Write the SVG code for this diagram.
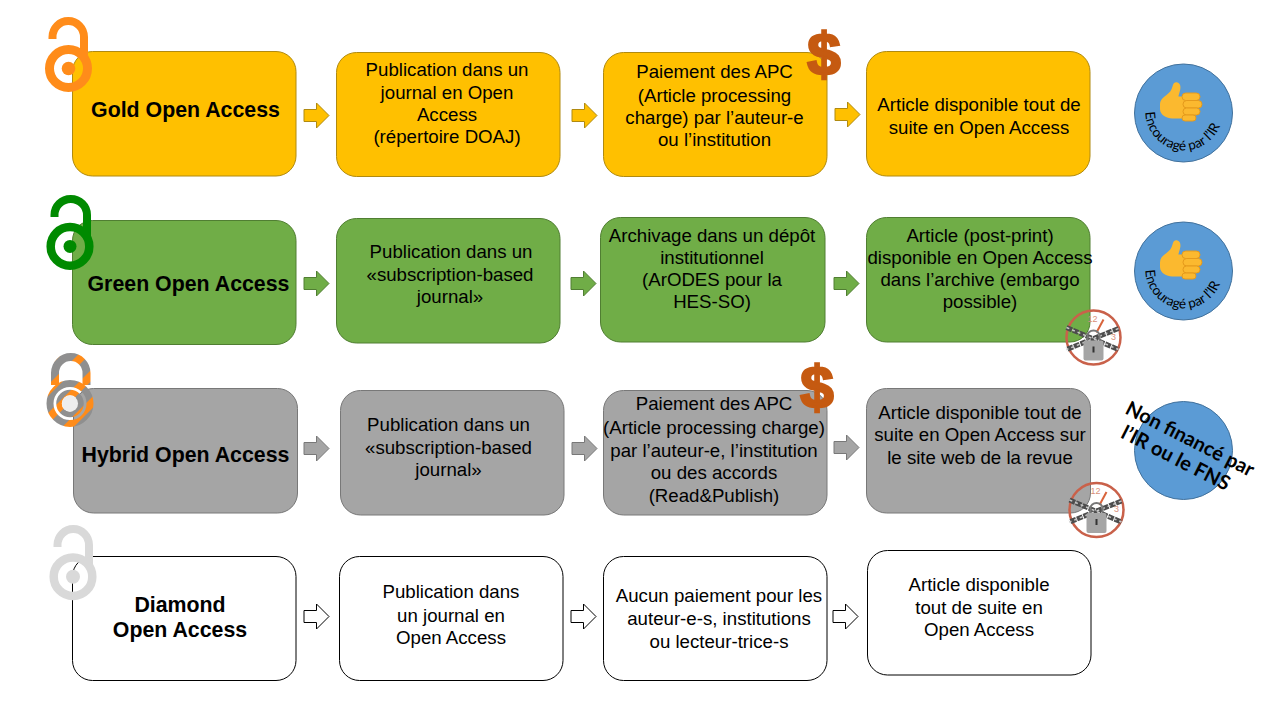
<svg xmlns="http://www.w3.org/2000/svg" width="1280" height="720" viewBox="0 0 1280 720">
<style>
.t{font-family:"Liberation Sans",Arial,sans-serif;font-size:18.67px;fill:#000;text-anchor:middle}
.h{font-weight:bold;font-size:21.33px}
.box{stroke-width:1}
.au .box,.au.arr{fill:#ffc000;stroke:#b08a10}
.gr .box,.gr.arr{fill:#70ad47;stroke:#507e32}
.hy .box,.hy.arr{fill:#a5a5a5;stroke:#787878}
.di .box,.di.arr{fill:#fff;stroke:#000}
.dollar{font-family:"Liberation Sans",Arial,sans-serif;font-weight:bold;font-size:60px;fill:#c55a11;stroke:#c55a11;stroke-width:2.5;text-anchor:middle}
.disc{fill:#5b9bd5;stroke:#41719c}
.enc{font-family:Lato,"Liberation Sans",sans-serif;font-size:13.5px;fill:#000}
.non{font-family:Lato,"Liberation Sans",sans-serif;font-weight:bold;font-size:20px;fill:#000;text-anchor:middle}
.thumb{fill:#fbb92f}
.fing{fill:#fbb92f;stroke:#e59a1c;stroke-width:1}
.clk{fill:none;stroke:#c9614a;stroke-width:2.5}
.chain{fill:none;stroke:#4d4d4d;stroke-width:5;stroke-dasharray:6 1}
.chain2{fill:none;stroke:#c8c8c8;stroke-width:1.5;stroke-dasharray:3 3}
.clktxt{font-family:"Liberation Sans",Arial,sans-serif;font-size:9px;fill:#d9907a;text-anchor:middle}
</style>
<defs>
<path id="a" d="M0 6.500H12.500V0L25 12.500 12.500 25V18.500H0Z"/>
<pattern id="stripes" width="20" height="20" patternUnits="userSpaceOnUse" patternTransform="rotate(45)">
<rect width="20" height="20" fill="#8f8f8f"/><rect x="6" width="8" height="20" fill="#ff8c1a"/>
</pattern>
<path id="thumbshape" d="M-42 1C-42-8-36-13-29-18C-22-23-19-28-17-35C-16-42-11-45-7-43C-1-41 0-34-2-27C-3-22-5-18-5-15L12-15L12 29L-18 29C-28 29-42 22-42 10Z"/>
<g id="up">
<use href="#thumbshape" class="thumb" transform="scale(.5)"/>
<rect class="fing" x="1" y="-11" width="18" height="7.500" rx="3.700"/>
<rect class="fing" x="2" y="-3.500" width="19" height="7.500" rx="3.700"/>
<rect class="fing" x="2" y="4" width="17" height="7" rx="3.500"/>
<rect class="fing" x="1" y="11" width="14" height="6" rx="3"/>
</g>
<g id="clock">
<circle class="clk" r="27"/>
<path d="M3-5L10-18" stroke="#d8643c" stroke-width="2" fill="none"/>
<text class="clktxt" x="-1" y="-16">12</text>
<text class="clktxt" x="20" y="2">3</text>
<path class="chain" d="M-27-10L25 12"/><path class="chain" d="M25-9L-27 12"/>
<path class="chain2" d="M-27-10L25 12"/><path class="chain2" d="M25-9L-27 12"/>
<path d="M-6 3V-2A6 5 0 0 1 6-2V3" fill="none" stroke="#777" stroke-width="2"/>
<rect x="-10" y="3" width="20" height="20" rx="2" fill="#a5a5a5"/>
<rect x="-1" y="9" width="2" height="6" fill="#333"/>
</g>
</defs>
<rect width="1280" height="720" fill="#fff"/>

<g id="connectors">
<use href="#a" class="au arr" x="304" y="103"/><use href="#a" class="au arr" x="572" y="103"/><use href="#a" class="au arr" x="835" y="102"/>
<use href="#a" class="gr arr" x="304" y="271"/><use href="#a" class="gr arr" x="571" y="271"/><use href="#a" class="gr arr" x="834" y="271"/>
<use href="#a" class="hy arr" x="304" y="436"/><use href="#a" class="hy arr" x="572" y="436"/><use href="#a" class="hy arr" x="834" y="435"/>
<use href="#a" class="di arr" x="304" y="604"/><use href="#a" class="di arr" x="571" y="604"/><use href="#a" class="di arr" x="833" y="604"/>
</g>

<g id="gold-1" class="au"><rect class="box" x="72.500" y="51.500" width="223.500" height="124.500" rx="20"/><text class="t h" x="185.500" y="117">Gold Open Access</text></g>
<g id="gold-2" class="au"><rect class="box" x="336.500" y="52.500" width="223.500" height="124" rx="20"/>
<text class="t" x="447" y="76">Publication dans un</text><text class="t" x="447" y="98.500">journal en Open</text><text class="t" x="447" y="120.500">Access</text><text class="t" x="447" y="143">(répertoire DOAJ)</text></g>
<g id="gold-3" class="au"><rect class="box" x="603.500" y="52.500" width="223.500" height="124" rx="20"/>
<text class="t" x="714.500" y="78">Paiement des APC</text><text class="t" x="714.500" y="102">(Article processing</text><text class="t" x="714.500" y="124">charge) par l’auteur-e</text><text class="t" x="714.500" y="146">ou l’institution</text></g>
<g id="gold-4" class="au"><rect class="box" x="866.500" y="51.500" width="223.500" height="124.500" rx="20"/>
<text class="t" x="979" y="111">Article disponible tout de</text><text class="t" x="979" y="133.500">suite en Open Access</text></g>

<g id="green-1" class="gr"><rect class="box" x="72.500" y="220.500" width="223.500" height="124" rx="20"/><text class="t h" x="188.500" y="291">Green Open Access</text></g>
<g id="green-2" class="gr"><rect class="box" x="336.500" y="218.500" width="223.500" height="124.500" rx="20"/>
<text class="t" x="451" y="258">Publication dans un</text><text class="t" x="450" y="281">«subscription-based</text><text class="t" x="450" y="303">journal»</text></g>
<g id="green-3" class="gr"><rect class="box" x="600.500" y="217.500" width="224.500" height="124.500" rx="20"/>
<text class="t" x="712" y="241.500">Archivage dans un dépôt</text><text class="t" x="712" y="264">institutionnel</text><text class="t" x="712" y="286">(ArODES pour la</text><text class="t" x="712" y="308">HES-SO)</text></g>
<g id="green-4" class="gr"><rect class="box" x="866.500" y="217.500" width="223.500" height="124.500" rx="20"/>
<text class="t" x="980" y="241.500">Article (post-print)</text><text class="t" x="980" y="264">disponible en Open Access</text><text class="t" x="980" y="286">dans l’archive (embargo</text><text class="t" x="980" y="308">possible)</text></g>

<g id="hybrid-1" class="hy"><rect class="box" x="73.500" y="388.500" width="224" height="124.500" rx="20"/><text class="t h" x="185.500" y="462">Hybrid Open Access</text></g>
<g id="hybrid-2" class="hy"><rect class="box" x="340.500" y="390.500" width="223.500" height="124.500" rx="20"/>
<text class="t" x="448.500" y="431">Publication dans un</text><text class="t" x="448.500" y="454">«subscription-based</text><text class="t" x="448.500" y="476">journal»</text></g>
<g id="hybrid-3" class="hy"><rect class="box" x="603.500" y="390.500" width="223.500" height="124.500" rx="20"/>
<text class="t" x="714" y="410">Paiement des APC</text><text class="t" x="714" y="434">(Article processing charge)</text><text class="t" x="714" y="457">par l’auteur-e, l’institution</text><text class="t" x="714" y="479">ou des accords</text><text class="t" x="714" y="502">(Read&amp;Publish)</text></g>
<g id="hybrid-4" class="hy"><rect class="box" x="866.500" y="388.500" width="224" height="124.500" rx="20"/>
<text class="t" x="980" y="418.500">Article disponible tout de</text><text class="t" x="980" y="441">suite en Open Access sur</text><text class="t" x="980" y="464">le site web de la revue</text></g>

<g id="diamond-1" class="di"><rect class="box" x="72.500" y="556.500" width="223.500" height="124" rx="20"/><text class="t h" x="180" y="612">Diamond</text><text class="t h" x="180" y="637">Open Access</text></g>
<g id="diamond-2" class="di"><rect class="box" x="339.500" y="556.500" width="223.500" height="124" rx="20"/>
<text class="t" x="451" y="598">Publication dans</text><text class="t" x="451" y="622">un journal en</text><text class="t" x="451" y="644">Open Access</text></g>
<g id="diamond-3" class="di"><rect class="box" x="603.500" y="556.500" width="223.500" height="124" rx="20"/>
<text class="t" x="719" y="602">Aucun paiement pour les</text><text class="t" x="719" y="625">auteur-e-s, institutions</text><text class="t" x="719" y="648">ou lecteur-trice-s</text></g>
<g id="diamond-4" class="di"><rect class="box" x="867.500" y="550.500" width="223.500" height="124.500" rx="20"/>
<text class="t" x="979" y="591">Article disponible</text><text class="t" x="979" y="614">tout de suite en</text><text class="t" x="979" y="636">Open Access</text></g>

<g id="lock-gold" fill="none" stroke="#ff8c1a">
<path d="M52.500 39V37A15.750 16 0 0 1 84 37V58" stroke-width="8"/>
<circle cx="68.500" cy="68.500" r="19" stroke-width="9"/><circle cx="68.500" cy="68.500" r="6.800" fill="#ff8c1a" stroke="none"/>
</g>
<g id="lock-green" fill="none" stroke="#008a00">
<path d="M54.500 217V215A16.250 16 0 0 1 87 215V236" stroke-width="8"/>
<circle cx="70" cy="246.400" r="19.300" stroke-width="8.500"/><circle cx="70" cy="246.400" r="6.500" fill="#008a00" stroke="none"/>
</g>
<g id="lock-hybrid" fill="none" stroke="url(#stripes)">
<path d="M55 385V373A15.750 16 0 0 1 86.500 373V385" stroke-width="8"/>
<circle cx="70" cy="403.500" r="20" stroke-width="7"/><circle cx="70" cy="403.500" r="11" stroke-width="5.500"/>
<circle cx="70" cy="403.500" r="8" fill="#eee" stroke="none"/>
</g>
<g id="lock-diamond" fill="none" stroke="#d9d9d9">
<path d="M57.500 547V545A15.750 16 0 0 1 89 545V566" stroke-width="8"/>
<circle cx="73" cy="576.700" r="19.300" stroke-width="8.500"/><circle cx="73" cy="576.700" r="7" fill="#d9d9d9" stroke="none"/>
</g>

<g id="dollar-gold"><text class="dollar" x="824" y="75">$</text></g>
<g id="dollar-hybrid"><text class="dollar" x="817" y="408">$</text></g>

<g id="clock-green"><use href="#clock" x="1093.500" y="337.500"/></g>
<g id="clock-hybrid"><use href="#clock" x="1096.500" y="510"/></g>

<g id="badge-gold"><circle class="disc" cx="1183.500" cy="113" r="49"/><use href="#up" x="1181" y="104"/>
<path id="arc1" d="M1145.500 112A38.500 38.500 0 0 0 1222.500 112" fill="none"/>
<text class="enc"><textPath href="#arc1">Encouragé par l’IR</textPath></text></g>
<g id="badge-green"><circle class="disc" cx="1183.500" cy="271" r="49"/><use href="#up" x="1181" y="262"/>
<path id="arc2" d="M1145.500 270A38.500 38.500 0 0 0 1222.500 270" fill="none"/>
<text class="enc"><textPath href="#arc2">Encouragé par l’IR</textPath></text></g>
<g id="badge-hybrid"><circle class="disc" cx="1183.500" cy="450.500" r="49"/>
<g transform="translate(1187 445) rotate(27)"><text class="non" x="0" y="0">Non financé par</text><text class="non" x="-4" y="23.500">l’IR ou le FNS</text></g></g>
</svg>
